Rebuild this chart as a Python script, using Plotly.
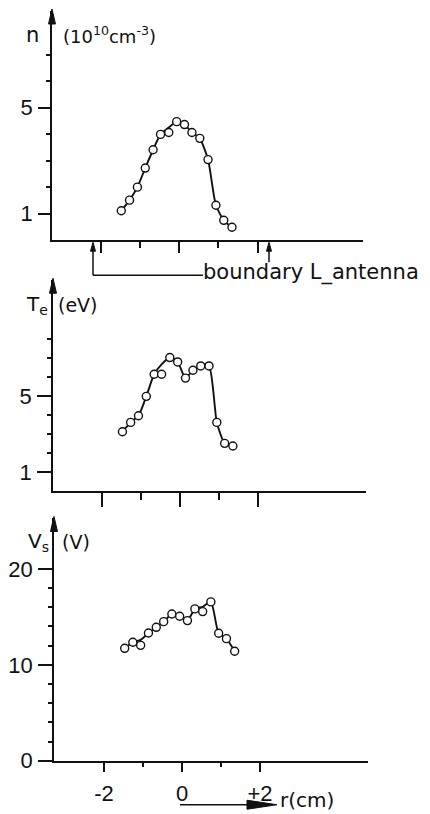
import plotly.graph_objects as go

# the page body keeps its default 8px margin: the figure starts 8px in
OFF = 8
KY = 1.017          # vertical correction observed between intended and rendered rows
W, H = 430 - 2 * OFF, 822

# ---- data ----
r_cm = [-1.47, -1.26, -1.06, -0.86, -0.66, -0.47, -0.26, -0.06, 0.14, 0.33, 0.53, 0.74, 0.94, 1.14, 1.35]

n_meas = [1.11, 1.51, 2.00, 2.72, 3.41, 3.99, 4.06, 4.47, 4.36, 4.06, 3.84, 3.04, 1.32, 0.75, 0.49]
n_fit = [1.11, 1.51, 2.00, 2.72, 3.41, 3.99, 4.25, 4.47, 4.36, 4.06, 3.84, 3.04, 1.32, 0.75, 0.49]

te_meas = [3.14, 3.63, 3.98, 5.00, 6.16, 6.16, 7.04, 6.81, 5.96, 6.37, 6.60, 6.60, 3.63, 2.53, 2.39]
te_fit = [3.14, 3.63, 3.98, 5.00, 6.16, 6.68, 7.04, 6.81, 5.96, 6.37, 6.60, 6.60, 3.63, 2.53, 2.39]

vs_meas = [11.72, 12.35, 12.03, 13.32, 13.91, 14.50, 15.30, 15.06, 14.61, 15.83, 15.55, 16.56, 13.29, 12.73, 11.41]
vs_fit = [11.72, 12.35, 12.60, 13.32, 13.91, 14.50, 15.30, 15.06, 14.61, 15.83, 16.05, 16.56, 13.29, 12.73, 11.41]

n_major = [1, 5]
n_minor = [2, 3, 4, 6, 7]
te_major = [1, 5]
te_minor = [2, 3, 4, 6, 7, 8]
vs_major = [0, 10, 20]
vs_minor = [2, 4, 6, 8, 12, 14, 16, 18]
x_major = [-2, 0, 2]
x_major_text = ["-2", "0", "+2"]
x_minor = [-1, 1]

INK = "#111111"
TICKFONT = dict(family="Liberation Sans, Arial, sans-serif", size=22, color=INK)
TEXTFONT = "DejaVu Sans, sans-serif"

# ---- panel geometry (target page pixels) ----
panels = [
    dict(x0=179.0, sx=39.25, left=52, right=363, y0=240, sy=26.5, top=11,
         ymaj=n_major, ymin=n_minor, xmaj_len=11, xmin_len=6, ymaj_len=12,
         y=n_meas, fit=n_fit, labels=False),
    dict(x0=180.0, sx=39.17, left=53, right=366, y0=491, sy=19.0, top=280,
         ymaj=te_major, ymin=te_minor, xmaj_len=14, xmin_len=7, ymaj_len=14,
         y=te_meas, fit=te_fit, labels=False),
    dict(x0=182.0, sx=39.0, left=54, right=368, y0=760, sy=9.58, top=518,
         ymaj=vs_major, ymin=vs_minor, xmaj_len=10, xmin_len=5, ymaj_len=14,
         y=vs_meas, fit=vs_fit, labels=True),
]


def fx(x):
    return (x - OFF) / W


def fy(y):
    return 1 - (y - OFF) * KY / H


fig = go.Figure()
layout = dict(width=W, height=H, margin=dict(l=0, r=0, t=0, b=0),
              paper_bgcolor="white", plot_bgcolor="white", showlegend=False)

for i, p in enumerate(panels, start=1):
    xa = "x" if i == 1 else f"x{i}"
    ya = "y" if i == 1 else f"y{i}"
    fig.add_trace(go.Scatter(x=r_cm, y=p["fit"], mode="lines", xaxis=xa, yaxis=ya,
                             line=dict(color=INK, width=1.9, shape="spline", smoothing=0.6),
                             hoverinfo="skip"))
    fig.add_trace(go.Scatter(x=r_cm, y=p["y"], mode="markers", xaxis=xa, yaxis=ya,
                             marker=dict(symbol="circle", size=8, color="white",
                                         line=dict(color=INK, width=1.4))))
    xr = [(p["left"] - p["x0"]) / p["sx"], (p["right"] - p["x0"]) / p["sx"]]
    yr = [0, (p["y0"] - p["top"]) / p["sy"]]
    xkey = "xaxis" if i == 1 else f"xaxis{i}"
    ykey = "yaxis" if i == 1 else f"yaxis{i}"
    layout[xkey] = dict(
        domain=[fx(p["left"]), fx(p["right"])], range=xr, anchor=ya,
        showgrid=False, zeroline=False, showline=True, linecolor=INK, linewidth=1.6,
        ticks="outside", tickvals=x_major, ticktext=x_major_text,
        ticklen=p["xmaj_len"], tickwidth=1.5, tickcolor=INK,
        showticklabels=p["labels"], tickfont=TICKFONT, ticklabelstandoff=2,
        minor=dict(tickvals=x_minor, ticks="outside", ticklen=p["xmin_len"],
                   tickwidth=1.5, tickcolor=INK),
    )
    layout[ykey] = dict(
        domain=[fy(p["y0"]), fy(p["top"])], range=yr, anchor=xa,
        showgrid=False, zeroline=False, showline=True, linecolor=INK, linewidth=1.6,
        ticks="outside", tickvals=p["ymaj"], ticktext=[str(v) for v in p["ymaj"]],
        ticklen=p["ymaj_len"], tickwidth=1.5, tickcolor=INK,
        tickfont=TICKFONT, ticklabelstandoff=1,
        minor=dict(tickvals=p["ymin"], ticks="outside", ticklen=4,
                   tickwidth=1.5, tickcolor=INK),
    )

fig.update_layout(**layout)

shapes = []


def tri(points):
    path = "M " + " L ".join(f"{fx(x):.5f},{fy(y):.5f}" for x, y in points) + " Z"
    shapes.append(dict(type="path", path=path, xref="paper", yref="paper",
                       fillcolor=INK, line=dict(color=INK, width=1)))


def seg(x1, y1, x2, y2, w=1.5):
    shapes.append(dict(type="line", x0=fx(x1), y0=fy(y1), x1=fx(x2), y1=fy(y2),
                       xref="paper", yref="paper", line=dict(color=INK, width=w)))


# y-axis arrowheads
for p in panels:
    xa_ = p["left"]
    tip = p["top"] - 2
    tri([(xa_, tip), (xa_ - 3.5, tip + 15), (xa_ + 3.5, tip + 15)])

# boundary arrows under the top panel
tri([(93, 242), (90.5, 251), (95.5, 251)])
seg(93, 250, 93, 275)
seg(93, 275, 203, 275)
tri([(269, 242), (266.5, 251), (271.5, 251)])
seg(269, 250, 269, 262)

# r(cm) arrow
seg(180, 804, 250, 804, 1.5)
tri([(247, 799.5), (277, 804), (247, 808.5)])

annotations = []


def txt(x, y, s, size=20, xanchor="left"):
    annotations.append(dict(x=fx(x), y=fy(y), xref="paper", yref="paper", text=s,
                            showarrow=False, xanchor=xanchor, yanchor="middle",
                            font=dict(family=TEXTFONT, size=size, color=INK)))


txt(32, 35, "n", 21, "center")
txt(61, 35, "(10<sup>10</sup>cm<sup>-3</sup>)", 18)
txt(37, 305, "T<sub>e</sub>", 20, "center")
txt(56, 305, "(eV)", 19)
txt(38, 542, "V<sub>s</sub>", 20, "center")
txt(60, 542, "(V)", 19)
txt(201, 272, "boundary L_antenna", 21)
txt(278, 799, "r(cm)", 20)

fig.update_layout(shapes=shapes, annotations=annotations)
fig.write_html("out.html")
